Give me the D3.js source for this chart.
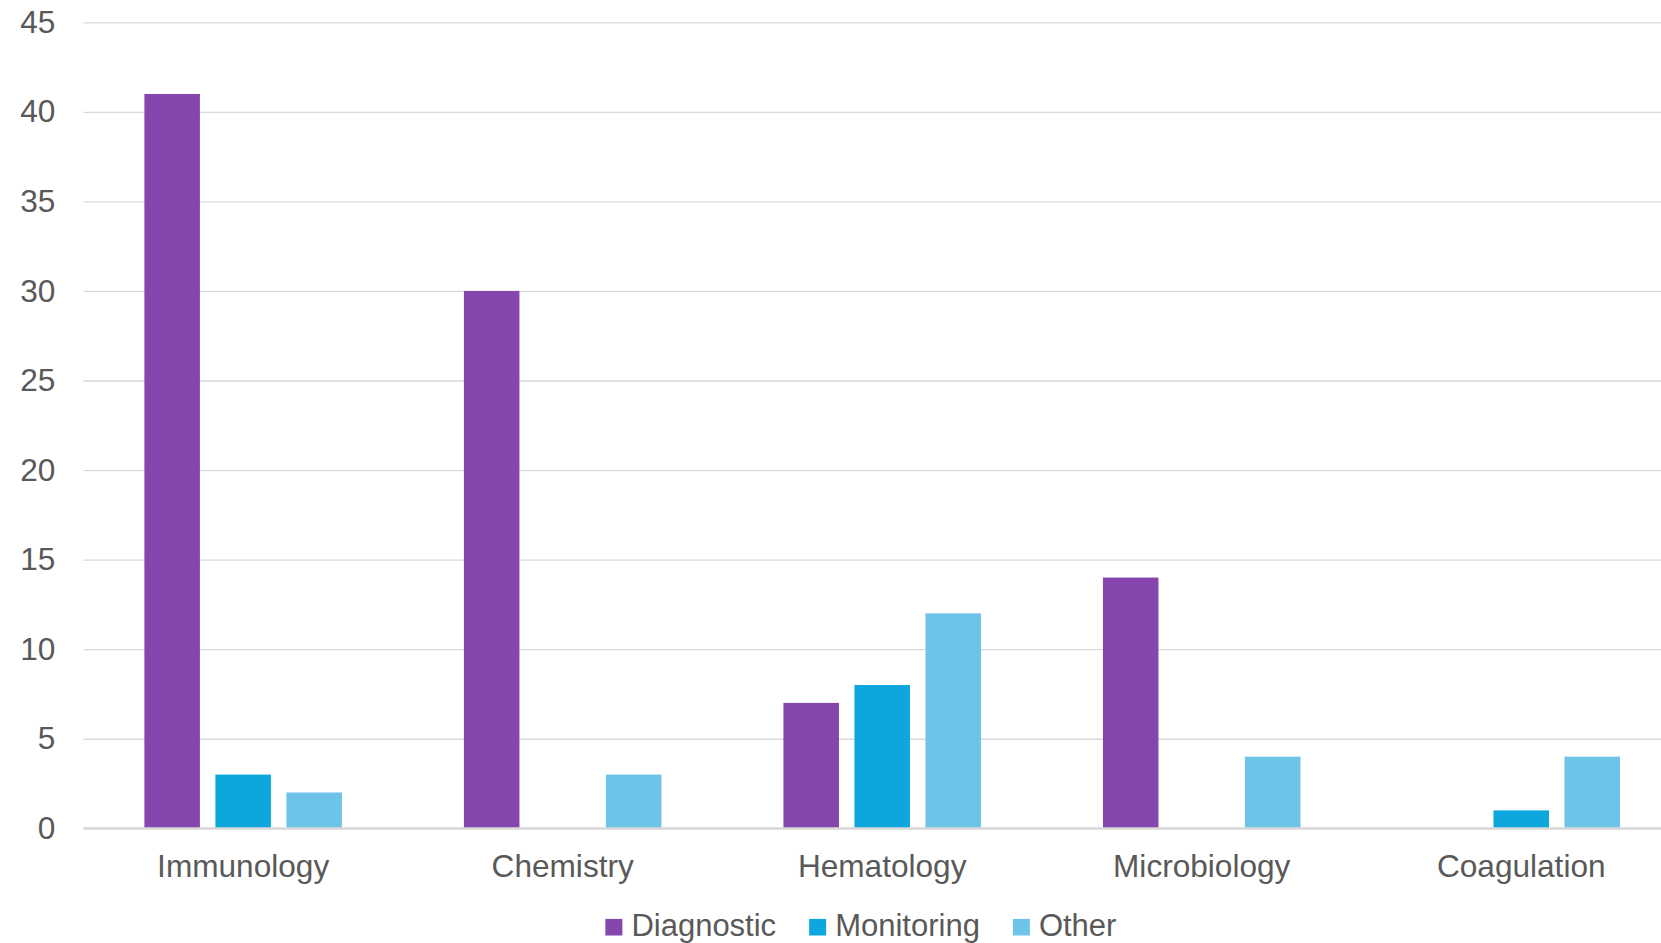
<!DOCTYPE html>
<html>
<head>
<meta charset="utf-8">
<script src="https://cdn.jsdelivr.net/npm/d3@7"></script>
<style>
  html, body { margin: 0; padding: 0; background: #ffffff; overflow: hidden; }
  svg { display: block; font-family: "Liberation Sans", Arial, sans-serif; }
</style>
</head>
<body>
<svg id="chart" width="1661" height="943"></svg>
<script>
// Test counts by laboratory discipline and purpose
const categories = ["Immunology", "Chemistry", "Hematology", "Microbiology", "Coagulation"];
const seriesNames = ["Diagnostic", "Monitoring", "Other"];
const diagnostic = [41, 30, 7, 14, 0];
const monitoring = [3, 0, 8, 0, 1];
const other = [2, 3, 12, 4, 4];
const yTicks = [0, 5, 10, 15, 20, 25, 30, 35, 40, 45];
const colors = ["#8547AD", "#0DA7DE", "#6EC4E8"];

const seriesValues = [diagnostic, monitoring, other];

const svg = d3.select("#chart");
const textColor = "#595959";
const gridColor = "#D9D9D9";
const fontSize = 31.6;

// Plot area (the right side runs past the visible frame)
const plotLeft = 83.4, plotRight = 1681, plotTop = 22.3, plotBottom = 828.3;

const y = d3.scaleLinear().domain([0, 45]).range([plotBottom, plotTop]);
const x0 = d3.scaleBand().domain(categories).range([plotLeft, plotRight]).paddingInner(0).paddingOuter(0);
const x1 = d3.scaleBand().domain(seriesNames).range([0, x0.bandwidth()])
  .paddingInner(0.218).paddingOuter(0.859);

// Horizontal gridlines with value labels
const yAxis = d3.axisLeft(y).tickValues(yTicks).tickSize(-(1661 - plotLeft)).tickPadding(28).tickFormat(d3.format("d"));
const gy = svg.append("g").attr("transform", `translate(${plotLeft},0)`).call(yAxis);
gy.select(".domain").remove();
gy.selectAll(".tick line")
  .attr("stroke", gridColor)
  .attr("stroke-width", d => d === 0 ? 2 : 1.3);
gy.selectAll(".tick text")
  .attr("fill", textColor)
  .attr("font-size", fontSize)
  .attr("font-family", "Liberation Sans, Arial, sans-serif");

// Grouped bars
const groups = svg.append("g").selectAll("g")
  .data(categories)
  .join("g")
  .attr("transform", d => `translate(${x0(d)},0)`);

groups.selectAll("rect")
  .data((c, i) => seriesNames.map((s, j) => ({ series: s, value: seriesValues[j][i], color: colors[j] })))
  .join("rect")
  .attr("x", d => x1(d.series))
  .attr("width", x1.bandwidth())
  .attr("y", d => y(d.value))
  .attr("height", d => y(0) - y(d.value))
  .attr("fill", d => d.color);

// Re-draw the baseline above the bars
svg.append("line")
  .attr("x1", plotLeft).attr("x2", 1661)
  .attr("y1", y(0)).attr("y2", y(0))
  .attr("stroke", gridColor).attr("stroke-width", 2);

// Category labels
const xAxis = d3.axisBottom(x0).tickSize(0).tickPadding(26.6);
const gx = svg.append("g").attr("transform", `translate(0,${plotBottom})`).call(xAxis);
gx.select(".domain").remove();
gx.selectAll(".tick text")
  .attr("fill", textColor)
  .attr("font-size", fontSize)
  .attr("font-family", "Liberation Sans, Arial, sans-serif");

// Legend
const legend = svg.append("g");
const legendFont = 31;
const sw = 17, gapText = 9, gapItem = 33;
let cursor = 0;
seriesNames.forEach((s, i) => {
  const g = legend.append("g");
  g.append("rect").attr("x", 0).attr("y", -16.6).attr("width", sw).attr("height", sw - 0.4).attr("fill", colors[i]);
  const t = g.append("text").attr("x", sw + gapText).attr("y", 0)
    .attr("fill", textColor).attr("font-size", legendFont).text(s);
  const w = sw + gapText + t.node().getComputedTextLength();
  g.attr("transform", `translate(${cursor},0)`);
  cursor += w + gapItem;
});
const legendWidth = cursor - gapItem;
legend.attr("transform", `translate(${860.9 - legendWidth / 2},935.5)`);
</script>
</body>
</html>
